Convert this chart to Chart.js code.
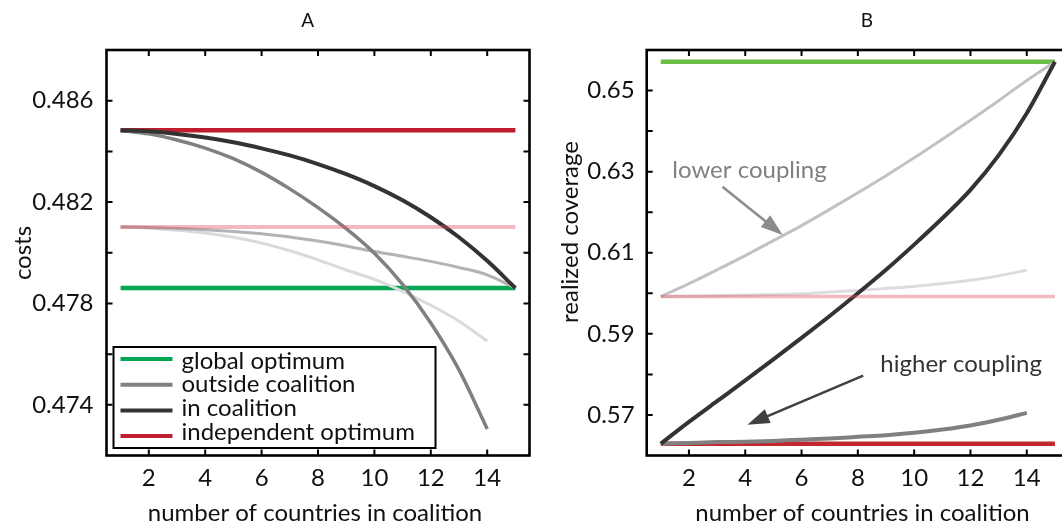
<!DOCTYPE html>
<html>
<head>
<meta charset="utf-8">
<script src="https://cdn.jsdelivr.net/npm/chart.js@4.4.1/dist/chart.umd.min.js"></script>
<style>
html, body { margin: 0; padding: 0; background: #fff; overflow: hidden; }
#wrap { position: relative; width: 1062px; height: 529px; overflow: hidden; }
#chartA { position: absolute; left: 0; top: 0; }
#chartB { position: absolute; left: 531px; top: 0; }
</style>
</head>
<body>
<div id="wrap">
  <canvas id="chartA" width="531" height="529"></canvas>
  <canvas id="chartB" width="540" height="529"></canvas>
</div>
<script>
// x values: number of countries in coalition
var coalitionSize = [1, 2, 3, 4, 5, 6, 7, 8, 9, 10, 11, 12, 13, 14, 15];
var lineEnds = [1, 15];
var xTickValues = [2, 4, 6, 8, 10, 12, 14];

// panel A - costs
var costInCoalition = [0.48483, 0.48479, 0.48469, 0.48455, 0.48436, 0.48412, 0.48384, 0.48350, 0.48310, 0.48263, 0.48207, 0.48140, 0.48061, 0.47968, 0.47861];
var costOutside = [0.48483, 0.48469, 0.48445, 0.48413, 0.48371, 0.48317, 0.48252, 0.48178, 0.48095, 0.47998, 0.47875, 0.47723, 0.47538, 0.47305];
var costInLow = [0.48102, 0.48100, 0.48096, 0.48091, 0.48084, 0.48075, 0.48062, 0.48046, 0.48027, 0.48005, 0.47986, 0.47966, 0.47942, 0.47913, 0.47861];
var costOutLow = [0.48102, 0.48097, 0.48089, 0.48078, 0.48061, 0.48038, 0.48008, 0.47972, 0.47932, 0.47895, 0.47848, 0.47793, 0.47730, 0.47652];
var costGlobal = [0.47861, 0.47861];
var costIndependent = [0.48483, 0.48483];
var costIndependentLow = [0.48102, 0.48102];
var costTicks = [0.474, 0.478, 0.482, 0.486];
var costMarks = [0.474, 0.476, 0.478, 0.480, 0.482, 0.484, 0.486];

// panel B - realized coverage
var covInCoalition = [0.5629, 0.5683, 0.5734, 0.5785, 0.5837, 0.5890, 0.5944, 0.6000, 0.6058, 0.6120, 0.6185, 0.6255, 0.6340, 0.6444, 0.6571];
var covOutside = [0.5629, 0.5631, 0.5633, 0.5634, 0.5636, 0.5639, 0.5642, 0.5646, 0.5650, 0.5656, 0.5664, 0.5674, 0.5688, 0.5705];
var covInLow = [0.5992, 0.6024, 0.6058, 0.6093, 0.6130, 0.6167, 0.6207, 0.6248, 0.6290, 0.6334, 0.6380, 0.6427, 0.6475, 0.6525, 0.6571];
var covOutLow = [0.5992, 0.5993, 0.5994, 0.5995, 0.5997, 0.5999, 0.6003, 0.6007, 0.6012, 0.6017, 0.6024, 0.6032, 0.6043, 0.6057];
var covGlobal = [0.6571, 0.6571];
var covIndependent = [0.5629, 0.5629];
var covIndependentLow = [0.5992, 0.5992];
var covTicks = [0.57, 0.59, 0.61, 0.63, 0.65];
var covMarks = [0.57, 0.58, 0.59, 0.60, 0.61, 0.62, 0.63, 0.64, 0.65];

var legendLabels = ['global optimum', 'outside coalition', 'in coalition', 'independent optimum'];
var legendColors = ['#00a651', '#808080', '#333333', '#be1e2d'];

var FONT = 'Lato, "Open Sans", sans-serif';
var TEXT = '#111111';
var PINK = 'rgba(226, 80, 98, 0.4)';

function pts(xs, ys) {
  return ys.map(function (y, i) { return { x: xs[i], y: y }; });
}

function line(xs, ys, color, w) {
  return {
    data: pts(xs, ys),
    borderColor: color,
    borderWidth: w,
    pointRadius: 0,
    fill: false,
    cubicInterpolationMode: 'monotone',
    borderCapStyle: 'butt'
  };
}

function arrow(ctx, x0, y0, x1, y1, color, w, hl, hw) {
  var ang = Math.atan2(y1 - y0, x1 - x0);
  var bx = x1 - hl * Math.cos(ang), by = y1 - hl * Math.sin(ang);
  ctx.strokeStyle = color;
  ctx.lineWidth = w;
  ctx.beginPath();
  ctx.moveTo(x0, y0);
  ctx.lineTo(bx + 2 * Math.cos(ang), by + 2 * Math.sin(ang));
  ctx.stroke();
  ctx.fillStyle = color;
  ctx.beginPath();
  ctx.moveTo(x1, y1);
  ctx.lineTo(bx + hw / 2 * Math.sin(ang), by - hw / 2 * Math.cos(ang));
  ctx.lineTo(bx - hw / 2 * Math.sin(ang), by + hw / 2 * Math.cos(ang));
  ctx.closePath();
  ctx.fill();
}

// frame, inward ticks, titles, legend and notes
function decor(cfg) {
  return {
    id: 'decor',
    afterDraw: function (chart) {
      var ctx = chart.ctx, a = chart.chartArea;
      var xs = chart.scales.x, ys = chart.scales.y;
      ctx.save();

      ctx.strokeStyle = '#000';
      ctx.lineWidth = 2;
      ctx.beginPath();
      xTickValues.forEach(function (v) {
        var px = xs.getPixelForValue(v);
        ctx.moveTo(px, a.top); ctx.lineTo(px, a.top + 6);
        ctx.moveTo(px, a.bottom); ctx.lineTo(px, a.bottom - 6);
      });
      cfg.yMarks.forEach(function (v) {
        var py = ys.getPixelForValue(v);
        ctx.moveTo(a.left, py); ctx.lineTo(a.left + 6, py);
        ctx.moveTo(a.right, py); ctx.lineTo(a.right - 6, py);
      });
      ctx.stroke();
      ctx.lineWidth = 2.6;
      ctx.strokeRect(a.left, a.top, a.right - a.left, a.bottom - a.top);

      ctx.fillStyle = TEXT;
      ctx.textAlign = 'center';
      ctx.textBaseline = 'middle';
      ctx.font = '19px ' + FONT;
      ctx.fillText(cfg.title, cfg.titleX, 21);

      ctx.font = '24px ' + FONT;
      ctx.textBaseline = 'alphabetic';
      ctx.fillText('number of countries in coalition', cfg.xTitleX, 521);

      ctx.save();
      ctx.translate(cfg.yTitleX, cfg.yTitleY);
      ctx.rotate(-Math.PI / 2);
      ctx.textBaseline = 'middle';
      ctx.fillText(cfg.yTitle, 0, 0);
      ctx.restore();

      if (cfg.legend) {
        var lx = a.left + 7, ly = a.top + 297;
        ctx.fillStyle = '#fff';
        ctx.fillRect(lx, ly, 322, 101);
        ctx.strokeStyle = '#000';
        ctx.lineWidth = 2;
        ctx.strokeRect(lx, ly, 322, 101);
        legendLabels.forEach(function (t, i) {
          var y = ly + 12 + i * 25.7;
          ctx.strokeStyle = legendColors[i];
          ctx.lineWidth = 4;
          ctx.beginPath();
          ctx.moveTo(lx + 7, y); ctx.lineTo(lx + 59, y);
          ctx.stroke();
          ctx.fillStyle = TEXT;
          ctx.textAlign = 'left';
          ctx.textBaseline = 'alphabetic';
          ctx.fillText(t, lx + 68, ly + 21.5 + i * 23.9);
        });
      }

      if (cfg.notes) {
        cfg.notes.forEach(function (n) {
          ctx.fillStyle = n.textColor;
          ctx.textAlign = 'left';
          ctx.textBaseline = 'middle';
          ctx.fillText(n.text, xs.getPixelForValue(n.at[0]), ys.getPixelForValue(n.at[1]));
          arrow(ctx,
            xs.getPixelForValue(n.from[0]), ys.getPixelForValue(n.from[1]),
            xs.getPixelForValue(n.to[0]), ys.getPixelForValue(n.to[1]),
            n.arrowColor, 2.6, 22, 15);
        });
      }
      ctx.restore();
    }
  };
}

function makeChart(id, datasets, yMin, yMax, yTicks, digits, yWidth, yPad, padRight, plugin) {
  return new Chart(document.getElementById(id), {
    type: 'line',
    data: { datasets: datasets },
    options: {
      responsive: false,
      animation: false,
      devicePixelRatio: 1,
      layout: { padding: { top: 50, right: padRight, left: 0, bottom: 0 } },
      plugins: { legend: { display: false }, tooltip: { enabled: false } },
      scales: {
        x: {
          type: 'linear', min: 0.5, max: 15.5,
          grid: { display: false, drawTicks: false },
          border: { display: false },
          afterBuildTicks: function (s) { s.ticks = xTickValues.map(function (v) { return { value: v }; }); },
          afterFit: function (s) { s.height = 73.5; },
          ticks: { font: { family: FONT, size: 24 }, color: TEXT, padding: 8, maxRotation: 0, autoSkip: false }
        },
        y: {
          type: 'linear', min: yMin, max: yMax,
          grid: { display: false, drawTicks: false },
          border: { display: false },
          afterBuildTicks: function (s) { s.ticks = yTicks.map(function (v) { return { value: v }; }); },
          afterFit: function (s) { s.width = yWidth; },
          ticks: {
            font: { family: FONT, size: 24 }, color: TEXT, padding: yPad,
            callback: function (v) { return v.toFixed(digits); }
          }
        }
      }
    },
    plugins: [plugin]
  });
}

makeChart('chartA', [
  line(lineEnds, costIndependentLow, PINK, 4),
  line(coalitionSize, costInCoalition, '#333333', 4),
  line(coalitionSize, costOutside, '#808080', 3.5),
  line(coalitionSize, costInLow, '#b3b3b3', 3),
  line(coalitionSize, costOutLow, '#dadada', 3),
  line(lineEnds, costIndependent, '#be1e2d', 4.5),
  line(lineEnds, costGlobal, '#00a651', 4.5)
], 0.472, 0.488, costTicks, 3, 106.5, 13, 1.5, decor({
  title: 'A', titleX: 307.6,
  xTitleX: 315,
  yTitle: 'costs', yTitleX: 23, yTitleY: 253,
  yMarks: costMarks,
  legend: true
}));

makeChart('chartB', [
  line(lineEnds, covIndependentLow, PINK, 3.5),
  line(coalitionSize, covInCoalition, '#333333', 4),
  line(coalitionSize, covOutside, '#808080', 4),
  line(coalitionSize, covInLow, '#c2c2c2', 3),
  line(coalitionSize, covOutLow, '#dcdcdc', 3),
  line(lineEnds, covIndependent, '#c1272d', 4.5),
  line(lineEnds, covGlobal, '#6cbd45', 4.5)
], 0.56, 0.66, covTicks, 2, 115.7, 12, 2, decor({
  title: 'B', titleX: 336,
  xTitleX: 331.5,
  yTitle: 'realized coverage', yTitleX: 39, yTitleY: 232,
  yMarks: covMarks,
  notes: [
    { text: 'lower coupling', at: [1.41, 0.6304], from: [3.19, 0.6263], to: [5.33, 0.6144], textColor: '#808080', arrowColor: '#8c8c8c' },
    { text: 'higher coupling', at: [8.80, 0.5824], from: [8.19, 0.5797], to: [4.08, 0.5676], textColor: '#333333', arrowColor: '#404040' }
  ]
}));
</script>
</body>
</html>
